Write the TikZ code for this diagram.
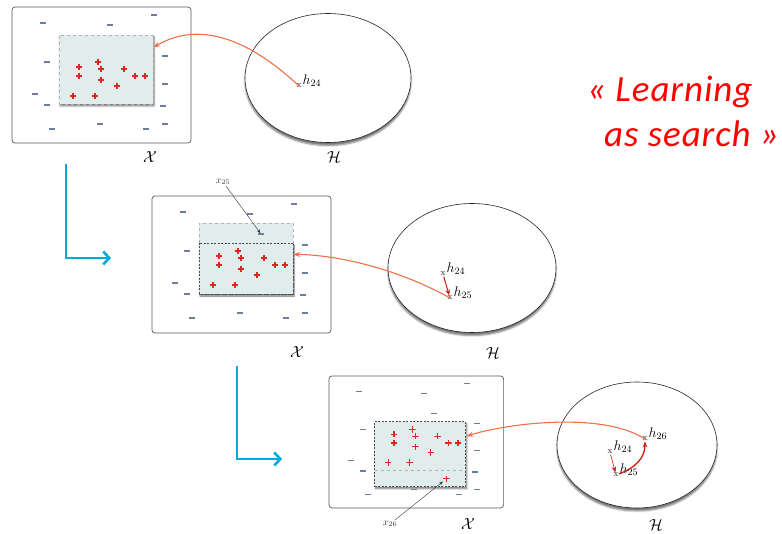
\RequirePackage{fix-cm}
\documentclass[tikz,border=0pt]{standalone}
\usepackage{fontspec}
\newfontfamily\slidefont[LetterSpace=2.5]{Carlito}
\usetikzlibrary{arrows.meta, positioning, fit, shapes.geometric, shadows.blur}

\definecolor{searchorange}{RGB}{240,112,72}
\definecolor{stepred}{RGB}{200,30,20}
\definecolor{flowblue}{RGB}{0,170,220}
\definecolor{negblue}{RGB}{105,125,165}
\definecolor{posred}{RGB}{220,40,30}
\definecolor{hypfill}{RGB}{225,236,236}

% labelled examples of one panel, #1 prefixes the node names
\newcommand{\examples}[1]{%
  \foreach \x/\y [count=\i] in {31/16, 98/18, 142/8, 35/55, 153/49, 153/77, 23/87, 35/98, 151/99, 40/122, 88/117, 134/122, 153/117}
    \node[negmark] (#1n\i) at (\x,\y) {};
  \foreach \x/\y [count=\i] in {67/60, 86/55, 89/62, 112/62, 123/69, 133/69, 67/69, 89/73, 105/79, 61/89, 83/89}
    \node[posmark] (#1p\i) at (\x,\y) {};
}

\begin{document}
\begin{tikzpicture}[x=1pt, y=-1pt,
        frame/.style={draw=black!65, line width=0.7pt, rounded corners=3pt},
        hyp/.style={rectangle, fill=hypfill, draw=black!30, dashed, inner sep=0pt},
        hypstrong/.style={draw=black!70, line width=0.9pt, dash pattern=on 2pt off 1.5pt},
        hypshadow/.style={blur shadow={shadow xshift=1pt, shadow yshift=-2pt, shadow blur steps=6, shadow opacity=55}},
        hspace/.style={ellipse, draw=black!85, line width=0.6pt, fill=white, inner sep=0pt, blur shadow={shadow xshift=0pt, shadow yshift=-3pt, shadow opacity=55}},
        negmark/.style={rectangle, fill=negblue, minimum width=6pt, minimum height=1.2pt, inner sep=0pt},
        posmark/.style={minimum size=6.5pt, inner sep=0pt, path picture={
            \draw[posred, line width=1.2pt] (path picture bounding box.north) -- (path picture bounding box.south)
                (path picture bounding box.west) -- (path picture bounding box.east);}},
        hpt/.style={font=\fontsize{9}{9}\selectfont, inner sep=0.3pt, text=black!85},
        hlabel/.style={font=\fontsize{14}{14}\selectfont, inner sep=0.5pt, yshift=5pt},
        ptlabel/.style={font=\fontsize{10}{10}\selectfont, inner sep=1pt, text=black!80},
        spacelabel/.style={font=\fontsize{16}{16}\selectfont, inner sep=0pt},
        search/.style={-{Stealth[length=7pt, width=5pt]}, searchorange, line width=1.1pt},
        stepline/.style={-{Stealth[length=6pt, width=4.5pt]}, stepred, line width=1pt},
        pointer/.style={-{Stealth[length=4pt, width=3pt]}, black!80, line width=0.4pt},
        flow/.style={-{Straight Barb[length=6pt, width=13pt]}, flowblue, line width=2.6pt},
        slogan/.style={text=red, font=\slidefont\itshape\fontsize{37}{44}\selectfont, inner sep=0pt, anchor=base west}
    ]
    \useasboundingbox (0,0) rectangle (782,534);

    % first hypothesis h24
    \begin{scope}[shift={(12,7)}]
        \draw[frame] (0,0) rectangle (179,136);
        \node[hyp, hypshadow, fit={(47,28) (141,97)}] (hyp24) {};
        \examples{a}
    \end{scope}
    \node[spacelabel] (Xa) at (150,157) {$\mathcal{X}$};

    \node[hspace, minimum width=166pt, minimum height=129pt] (Ha) at (328,78) {};
    \node[spacelabel] (Hlbla) at (334,157) {$\mathcal{H}$};
    \node[hpt, label={[hlabel]right:$h_{24}$}] (h24a) at (299,86) {x};
    \draw[search] (h24a.center) .. controls (250,40) and (200,20) .. (hyp24.25);

    % second hypothesis h25
    \begin{scope}[shift={(152,196)}]
        \draw[frame] (0,0) rectangle (179,137);
        \node[hyp, fit={(47,27) (141,98)}] (hyp25) {};
        \draw[fill=hypfill, hypstrong, hypshadow] (47,47) rectangle (141,98);
        \examples{b}
        \node[negmark] (bx25) at (109,38) {};
    \end{scope}
    \node[spacelabel] (Xb) at (297,352) {$\mathcal{X}$};
    \node[ptlabel] (x25lbl) at (223,182) {$x_{25}$};
    \draw[pointer] (x25lbl) -- (bx25);

    \node[hspace, minimum width=168pt, minimum height=129pt] (Hb) at (472,268) {};
    \node[spacelabel] (Hlblb) at (493,353) {$\mathcal{H}$};
    \node[hpt, label={[hlabel]right:$h_{24}$}] (h24b) at (443,274) {x};
    \node[hpt, label={[hlabel]right:$h_{25}$}] (h25b) at (450,298) {x};
    \draw[stepline] (h24b) -- (h25b);
    \draw[search] (h25b.center) .. controls (400,270) and (340,255) .. (hyp25.5);

    % third hypothesis h26
    \begin{scope}[shift={(329,376)}, scale=0.97]
        \draw[frame] (0,0) rectangle (180,136);
        \node[hyp, hypstrong, hypshadow, fit={(47,47) (141,114)}] (hyp26) {};
        \draw[draw=black!30, dashed] (47,97) -- (141,97);
        \examples{c}
        \node[negmark] (cx25) at (108,39) {};
        \node[posmark] (cx26) at (121,106) {};
    \end{scope}
    \node[spacelabel] (Xc) at (468,524) {$\mathcal{X}$};
    \node[ptlabel] (x26lbl) at (390,524) {$x_{26}$};
    \draw[pointer] (x26lbl) -- (cx26);

    \node[hspace, minimum width=160pt, minimum height=126pt] (Hc) at (637,445) {};
    \node[spacelabel] (Hlblc) at (656,525) {$\mathcal{H}$};
    \node[hpt, label={[hlabel]right:$h_{24}$}] (h24c) at (610,452) {x};
    \node[hpt, label={[hlabel]right:$h_{25}$}] (h25c) at (616,475) {x};
    \node[hpt, label={[hlabel]right:$h_{26}$}] (h26c) at (645,439) {x};
    \draw[stepline, line width=0.6pt] (h24c) -- (h25c);
    \draw[stepline, line width=1.3pt] (h25c) .. controls (635,468) and (645,458) .. (h26c);
    \draw[search] (h26c.center) .. controls (600,410) and (500,425) .. (hyp26.21);

    % search steps
    \coordinate (flowA) at (66,164);
    \coordinate (flowAend) at (111,258);
    \draw[flow] (flowA) |- (flowAend);
    \coordinate (flowB) at (237,366);
    \coordinate (flowBend) at (282,459);
    \draw[flow] (flowB) |- (flowBend);

    \node[slogan] (slogan1) at (587,102) {«~Learning};
    \node[slogan] (slogan2) at (604,147) {as search~»};
\end{tikzpicture}
\end{document}
